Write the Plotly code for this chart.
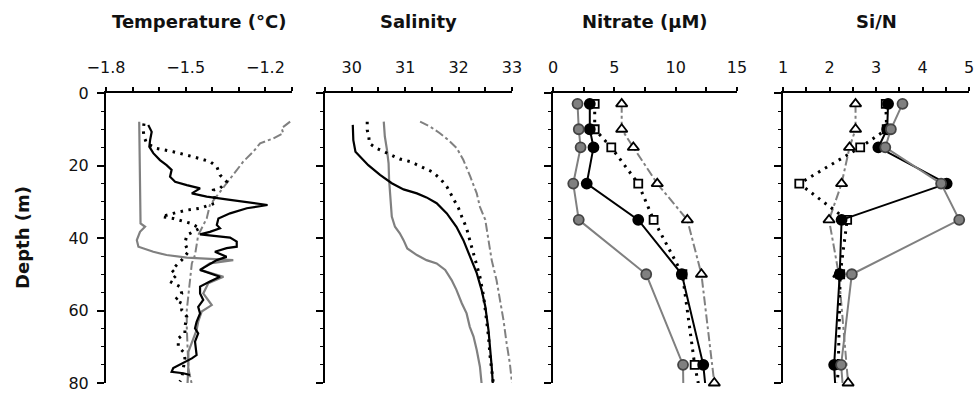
import plotly.graph_objects as go

# ---------------- Temperature profiles (depth m, deg C) ----------------
temp_gray_depth = [7.9, 24, 36, 36.9, 38.3, 40.6, 42.4, 43.8, 44.7, 45.4, 46.1, 47.0, 48.8,
                   50.7, 52.5, 55.3, 58.5, 60.3, 63.1, 65.4, 67.7, 71.4, 75.0, 80.0]
temp_gray = [-1.675, -1.672, -1.670, -1.653, -1.672, -1.684, -1.678, -1.622, -1.572, -1.496,
             -1.321, -1.409, -1.446, -1.358, -1.415, -1.434, -1.402, -1.440, -1.453, -1.459,
             -1.471, -1.490, -1.490, -1.493]

temp_black_depth = [8.8, 10.7, 13.0, 14.8, 16.6, 18.5, 19.9, 21.2, 23.1, 24.5, 25.4, 26.3,
                    27.7, 28.6, 29.5, 30.2, 30.9, 31.8, 33.2, 34.6, 36.4, 37.3, 38.3, 39.0,
                    39.9, 41.0, 42.4, 42.8, 43.8, 45.2, 46.1, 48.8, 50.7, 52.0, 53.4, 55.3,
                    57.1, 59.0, 60.8, 63.1, 64.9, 66.3, 68.6, 72.3, 73.2, 75.9, 76.9, 77.3, 77.8]
temp_black = [-1.641, -1.628, -1.634, -1.637, -1.622, -1.597, -1.572, -1.553, -1.559, -1.540,
              -1.496, -1.446, -1.477, -1.421, -1.333, -1.270, -1.192, -1.270, -1.333, -1.377,
              -1.383, -1.371, -1.409, -1.446, -1.333, -1.308, -1.308, -1.346, -1.390, -1.346,
              -1.383, -1.446, -1.371, -1.409, -1.446, -1.446, -1.434, -1.453, -1.446, -1.459,
              -1.465, -1.453, -1.465, -1.459, -1.477, -1.547, -1.553, -1.509, -1.484]

temp_dot_depth = [8.4, 10.2, 12.0, 13.9, 15.3, 16.2, 17.6, 18.9, 20.3, 22.6, 24.5, 26.3, 26.8,
                  30.4, 31.8, 32.3, 33.2, 34.1, 34.6, 35.9, 37.3, 39.2, 41.5, 43.8, 46.1, 47.4,
                  48.8, 50.2, 52.0, 53.4, 55.3, 57.1, 58.0, 59.9, 61.7, 64.5, 66.3, 67.7, 70.0,
                  71.4, 73.2, 78.7, 79.6]
temp_dot = [-1.657, -1.660, -1.657, -1.647, -1.609, -1.547, -1.471, -1.409, -1.383, -1.371,
            -1.346, -1.371, -1.396, -1.390, -1.446, -1.496, -1.547, -1.590, -1.547, -1.484,
            -1.446, -1.496, -1.503, -1.490, -1.515, -1.534, -1.553, -1.534, -1.559, -1.522,
            -1.515, -1.540, -1.515, -1.515, -1.496, -1.503, -1.503, -1.528, -1.528, -1.509,
            -1.503, -1.515, -1.522]

temp_dashdot_depth = [7.9, 9.7, 11.1, 12.5, 13.9, 16.2, 18.9, 21.7, 24.9, 30.9, 34.6, 39.2,
                      44.7, 47.0, 53.0, 59.9, 64.5, 76.0, 80.0]
temp_dashdot = [-1.107, -1.139, -1.133, -1.170, -1.220, -1.246, -1.283, -1.314, -1.346, -1.409,
                -1.421, -1.453, -1.465, -1.477, -1.486, -1.496, -1.496, -1.490, -1.478]

# ---------------- Salinity profiles ----------------
sal_black_depth = [8.8, 13.0, 16.2, 17.7, 19.9, 22.6, 24.9, 26.6, 27.7, 28.8, 30.4, 33.2, 36.9,
                   40.6, 45.1, 49.7, 54.3, 58.9, 65.4, 70.0, 75.5, 80.0]
sal_black = [30.02, 30.03, 30.07, 30.16, 30.31, 30.53, 30.75, 30.97, 31.22, 31.40, 31.59, 31.78,
             31.96, 32.09, 32.21, 32.34, 32.43, 32.50, 32.56, 32.59, 32.62, 32.64]

sal_dot_depth = [7.9, 10.2, 12.0, 13.9, 15.3, 16.8, 18.2, 18.9, 20.1, 21.7, 23.5, 25.8, 29.1,
                 31.8, 34.1, 37.3, 40.6, 44.2, 47.4, 50.7, 56.2, 61.7, 67.2, 72.7, 77.3, 80.0]
sal_dot = [30.29, 30.29, 30.32, 30.33, 30.47, 30.69, 30.90, 31.09, 31.28, 31.50, 31.65, 31.78,
           31.90, 32.00, 32.06, 32.15, 32.21, 32.28, 32.34, 32.40, 32.47, 32.52, 32.56, 32.59,
           32.62, 32.65]

sal_gray_depth = [7.9, 12.0, 15.7, 19.4, 24.0, 29.5, 34.1, 36.9, 38.7, 40.6, 42.9, 44.7, 46.1,
                  47.0, 48.8, 51.6, 54.3, 58.0, 60.8, 64.5, 67.2, 70.9, 75.5, 80.0]
sal_gray = [30.60, 30.62, 30.66, 30.69, 30.70, 30.72, 30.75, 30.81, 30.90, 30.97, 31.04, 31.22,
            31.40, 31.59, 31.75, 31.87, 31.96, 32.06, 32.15, 32.21, 32.28, 32.34, 32.40, 32.43]

sal_dashdot_depth = [7.9, 9.3, 11.1, 13.0, 15.3, 18.5, 23.1, 27.7, 31.4, 35.0, 40.6, 46.1, 51.6,
                     57.1, 62.6, 69.1, 74.6, 80.0]
sal_dashdot = [31.28, 31.47, 31.65, 31.81, 31.97, 32.09, 32.22, 32.34, 32.40, 32.50, 32.56,
               32.62, 32.71, 32.78, 32.84, 32.90, 32.96, 33.00]

# ---------------- Bottle samples: nitrate (uM) and Si/N ----------------
bottle_depth = [3, 10, 15, 25, 35, 50, 75, 100]
bottle_depth_tri = [3, 10, 15, 25, 35, 50, 80]

no3_gray = [2.0, 2.1, 2.25, 1.65, 2.1, 7.6, 10.6, 10.7]
no3_black = [3.0, 3.0, 3.3, 2.75, 6.95, 10.5, 12.25, 13.0]
no3_square = [3.4, 3.4, 4.75, 6.95, 8.2, 10.55, 11.55, 13.0]
no3_tri = [5.6, 5.6, 6.55, 8.5, 10.95, 12.1, 13.15]

sin_gray = [3.57, 3.32, 3.20, 4.40, 4.79, 2.48, 2.25, 2.40]
sin_black = [3.26, 3.24, 3.05, 4.52, 2.26, 2.22, 2.10, 2.20]
sin_square = [3.21, 3.23, 2.66, 1.35, 2.38, 2.23, 2.19, 2.09]
sin_tri = [2.56, 2.56, 2.43, 2.26, 1.99, 2.20, 2.40]

DEPTH_MAX = 80
GRAY = "#808080"
FONT = "DejaVu Sans"
DOTS = "2.5px,5.5px"

fig = go.Figure()


def profile(x, y, axis, color, dash, width=2.0):
    fig.add_trace(go.Scatter(x=x, y=y, mode="lines", xaxis="x" + axis, yaxis="y" + axis,
                             line=dict(color=color, dash=dash, width=width),
                             showlegend=False, hoverinfo="skip"))


def bottles(x, y, axis, color, dash, symbol, fill, edge, size, width=2.0):
    # connecting line uses every sample (deeper ones run off the bottom of the axis)
    profile(x, y, axis, color, dash, width)
    keep = [i for i, d in enumerate(y) if d <= DEPTH_MAX]
    fig.add_trace(go.Scatter(x=[x[i] for i in keep], y=[y[i] for i in keep], mode="markers",
                             xaxis="x" + axis, yaxis="y" + axis, cliponaxis=False,
                             marker=dict(symbol=symbol, size=size, color=fill,
                                         line=dict(color=edge, width=1.8)),
                             showlegend=False, hoverinfo="skip"))


# Temperature
profile(temp_dashdot, temp_dashdot_depth, "", GRAY, "dashdot", 2)
profile(temp_gray, temp_gray_depth, "", GRAY, "solid", 2.2)
profile(temp_dot, temp_dot_depth, "", "black", DOTS, 3)
profile(temp_black, temp_black_depth, "", "black", "solid", 2.2)

# Salinity
profile(sal_dashdot, sal_dashdot_depth, "2", GRAY, "dashdot", 2)
profile(sal_gray, sal_gray_depth, "2", GRAY, "solid", 2.2)
profile(sal_dot, sal_dot_depth, "2", "black", DOTS, 3)
profile(sal_black, sal_black_depth, "2", "black", "solid", 2.2)

# Nitrate
bottles(no3_tri, bottle_depth_tri, "3", GRAY, "dashdot", "triangle-up", "white", "black", 10)
bottles(no3_square, bottle_depth, "3", "black", DOTS, "square", "white", "black", 8, 3)
bottles(no3_black, bottle_depth, "3", "black", "solid", "circle", "black", "black", 10)
bottles(no3_gray, bottle_depth, "3", GRAY, "solid", "circle", GRAY, "#444444", 10)

# Si/N
bottles(sin_tri, bottle_depth_tri, "4", GRAY, "dashdot", "triangle-up", "white", "black", 10)
bottles(sin_square, bottle_depth, "4", "black", DOTS, "square", "white", "black", 8, 3)
bottles(sin_black, bottle_depth, "4", "black", "solid", "circle", "black", "black", 10)
bottles(sin_gray, bottle_depth, "4", GRAY, "solid", "circle", GRAY, "#444444", 10)

W, H = 975, 395
PLOT_TOP, PLOT_BOTTOM = 93, 383
y_domain = [(H - PLOT_BOTTOM) / H, (H - PLOT_TOP) / H]
panels = [
    # (left px, right px, range, tick0, dtick, minor dtick, format, title)
    (106, 292, [-1.8, -1.1], -1.8, 0.3, 0.1, ".1f", "Temperature (°C)"),
    (325, 512, [29.5, 33.0], 30, 1, 0.5, "d", "Salinity"),
    (553, 737, [0, 15], 0, 5, 2.5, "d", "Nitrate (μM)"),
    (783, 969, [1, 5], 1, 1, 0.5, "d", "Si/N"),
]

layout = dict(
    width=W, height=H, margin=dict(l=0, r=0, t=0, b=0, autoexpand=False),
    paper_bgcolor="white", plot_bgcolor="white",
    font=dict(family=FONT, color="black"),
    showlegend=False,
)

annotations = []
for i, (left, right, rng, t0, dt, mdt, fmt, title) in enumerate(panels):
    suffix = "" if i == 0 else str(i + 1)
    xname, yname = "xaxis" + suffix, "yaxis" + suffix
    layout[xname] = dict(
        domain=[left / W, right / W], range=rng, side="top", anchor="y" + suffix,
        tickmode="linear", tick0=t0, dtick=dt, tickformat=fmt, automargin=False,
        ticks="outside", ticklen=4, tickwidth=1.5, tickcolor="black",
        minor=dict(dtick=mdt, tick0=t0, ticks="outside", ticklen=4, tickwidth=1.5,
                   tickcolor="black", showgrid=False),
        showline=True, linecolor="black", linewidth=2,
        showgrid=False, zeroline=False, ticklabelstandoff=8,
        tickfont=dict(family=FONT, size=16, color="#111111"),
    )
    layout[yname] = dict(
        domain=y_domain, range=[DEPTH_MAX, 0], anchor="x" + suffix, automargin=False,
        tickmode="linear", tick0=0, dtick=20,
        ticks="outside", ticklen=7, tickwidth=1.5, tickcolor="black",
        minor=dict(dtick=5, tick0=0, ticks="outside", ticklen=3, tickwidth=1.2,
                   tickcolor="black", showgrid=False),
        showline=True, linecolor="black", linewidth=2,
        showgrid=False, zeroline=False, showticklabels=(i == 0), ticklabelstandoff=5,
        tickfont=dict(family=FONT, size=16, color="#111111"),
    )
    annotations.append(dict(
        text="<b>%s</b>" % title, x=(left + right) / 2 / W, y=(H - 22) / H,
        xref="paper", yref="paper", xanchor="center", yanchor="middle", showarrow=False,
        font=dict(family=FONT, size=18, color="#111111"),
    ))

annotations.append(dict(
    text="<b>Depth (m)</b>", x=22 / W, y=(H - (PLOT_TOP + PLOT_BOTTOM) / 2) / H,
    xref="paper", yref="paper", xanchor="center", yanchor="middle", showarrow=False,
    textangle=-90, font=dict(family=FONT, size=18, color="#111111"),
))
layout["annotations"] = annotations

fig.update_layout(**layout)
fig.write_html("out.html")
